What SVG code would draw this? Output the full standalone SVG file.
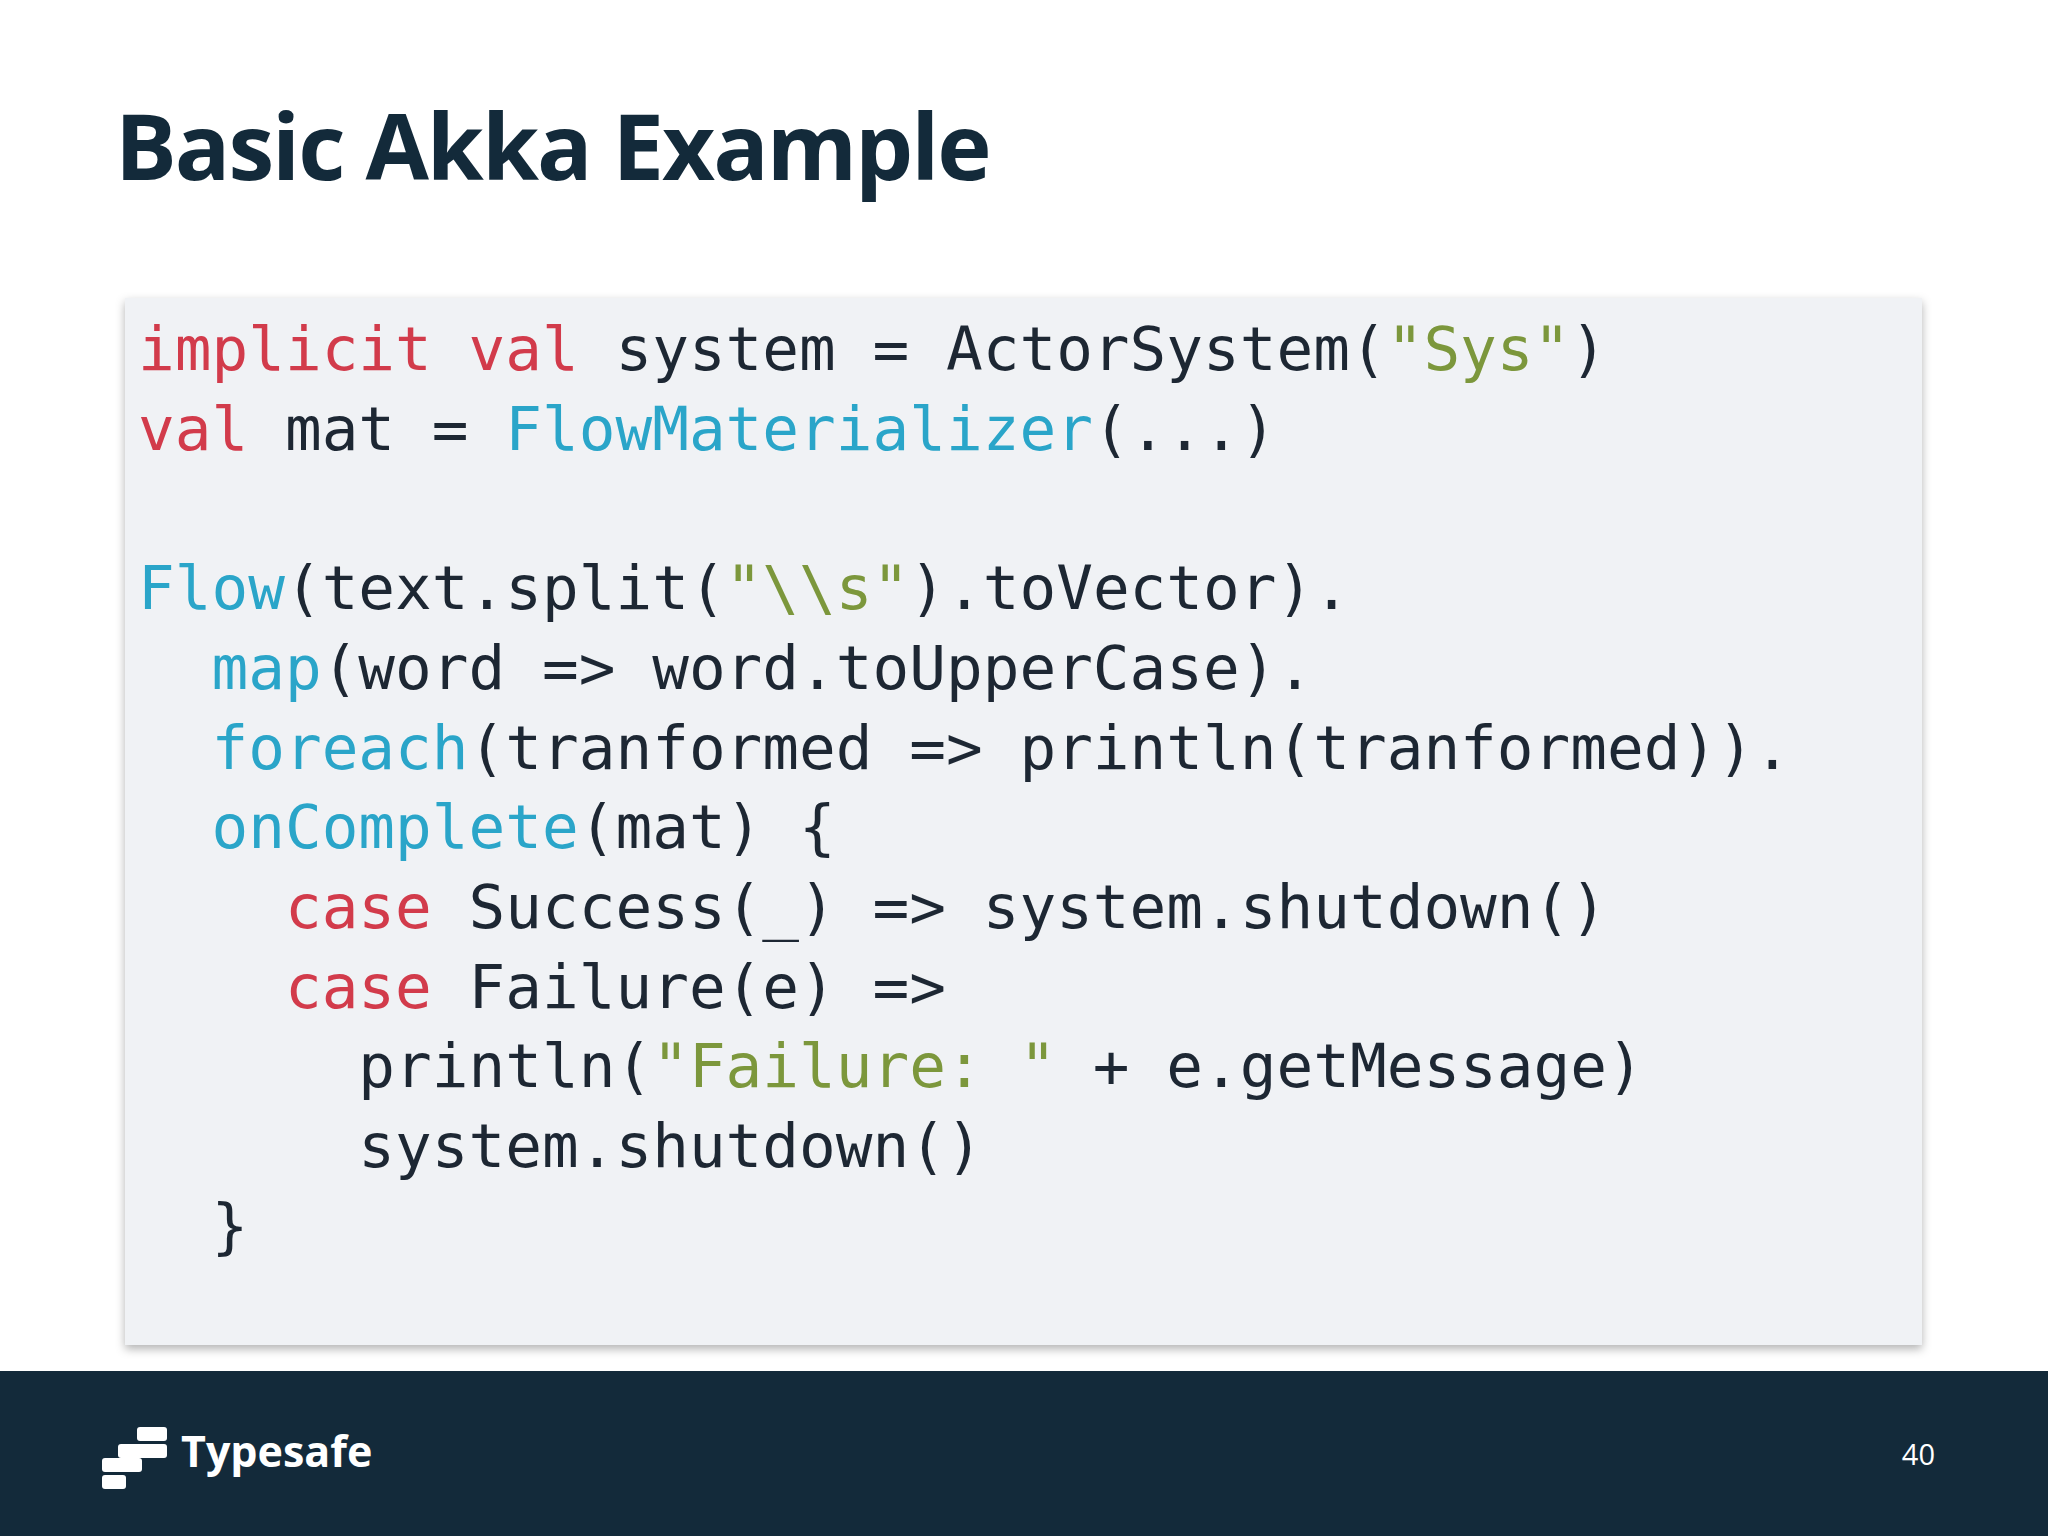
<svg xmlns="http://www.w3.org/2000/svg" width="2048" height="1536" viewBox="0 0 2048 1536">
<style>
.c{font-family:"DejaVu Sans Mono","Liberation Mono",monospace;font-size:61px;fill:#1d2733;white-space:pre}
.k{fill:#d23b4b}.f{fill:#2aa5c9}.s{fill:#7c973c}
</style>
<defs><filter id="sh" x="-5%" y="-5%" width="110%" height="110%"><feDropShadow dx="0" dy="4" stdDeviation="5" flood-opacity="0.3"/></filter></defs>
<rect width="2048" height="1536" fill="#ffffff"/>
<g id="title"><text x="115" y="180" font-family="Open Sans,Noto Sans,sans-serif" font-weight="bold" font-size="92" fill="#132a3a" letter-spacing="-2">Basic Akka Example</text></g>
<g id="code">
<rect x="125" y="298" width="1797" height="1047" fill="#f0f2f5" filter="url(#sh)"/>
<text class="c" x="138" y="370"><tspan class="k">implicit val</tspan> system = ActorSystem(<tspan class="s">"Sys"</tspan>)</text>
<text class="c" x="138" y="450"><tspan class="k">val</tspan> mat = <tspan class="f">FlowMaterializer</tspan>(...)</text>
<text class="c" x="138" y="609"><tspan class="f">Flow</tspan>(text.split(<tspan class="s">"\\s"</tspan>).toVector).</text>
<text class="c" x="138" y="689">  <tspan class="f">map</tspan>(word =&gt; word.toUpperCase).</text>
<text class="c" x="138" y="769">  <tspan class="f">foreach</tspan>(tranformed =&gt; println(tranformed)).</text>
<text class="c" x="138" y="848">  <tspan class="f">onComplete</tspan>(mat) {</text>
<text class="c" x="138" y="928">    <tspan class="k">case</tspan> Success(_) =&gt; system.shutdown()</text>
<text class="c" x="138" y="1008">    <tspan class="k">case</tspan> Failure(e) =&gt;</text>
<text class="c" x="138" y="1087">      println(<tspan class="s">"Failure: "</tspan> + e.getMessage)</text>
<text class="c" x="138" y="1167">      system.shutdown()</text>
<text class="c" x="138" y="1247">  }</text>
</g>
<g id="footer">
<rect x="0" y="1371" width="2048" height="165" fill="#132a3a"/>
<g fill="#ffffff">
<rect x="137" y="1427" width="30" height="14" rx="3"/>
<rect x="118" y="1444" width="49" height="14" rx="3"/>
<rect x="102" y="1458" width="40" height="14" rx="3"/>
<rect x="102" y="1475" width="24" height="14" rx="3"/>
</g>
<text x="181" y="1467" font-family="Open Sans,Noto Sans,sans-serif" font-weight="bold" font-size="43" fill="#ffffff">Typesafe</text>
<text x="1935" y="1465" text-anchor="end" font-family="Open Sans,Noto Sans,sans-serif" font-size="29" fill="#ffffff">40</text>
</g>
</svg>
